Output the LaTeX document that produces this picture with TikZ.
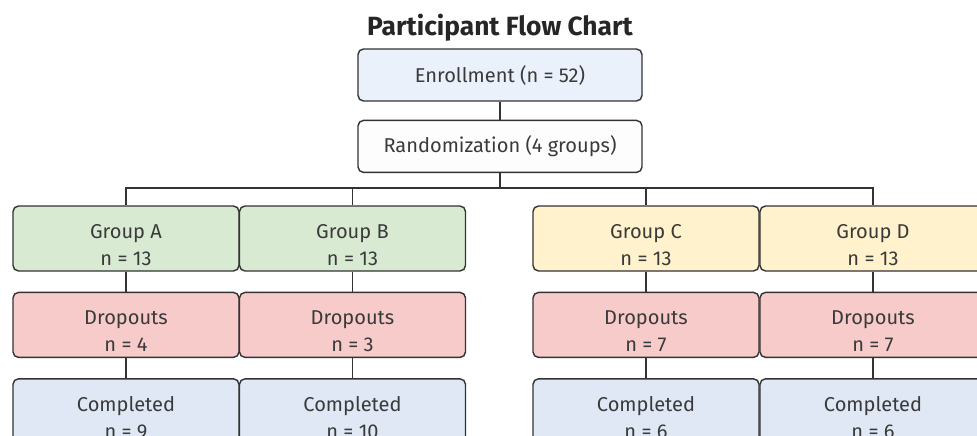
\documentclass[tikz,border=0pt]{standalone}
\usepackage{fontspec}
\setmainfont{Fira Sans}
\usetikzlibrary{positioning}
\definecolor{edgegray}{HTML}{333333}
\definecolor{textgray}{HTML}{3A3A3A}
\definecolor{enrollblue}{HTML}{EAF1FA}
\definecolor{randwhite}{HTML}{FDFDFD}
\definecolor{armgreen}{HTML}{D9EAD3}
\definecolor{armyellow}{HTML}{FFF2CC}
\definecolor{dropred}{HTML}{F6CBCA}
\definecolor{doneblue}{HTML}{DFE8F4}
\tikzset{
  flowbox/.style={draw=edgegray, line width=0.8pt, rounded corners=0.11cm, align=center,
                  text=textgray, font=\fontsize{11.4}{15.3}\selectfont, inner sep=0pt},
  topbox/.style={flowbox, minimum width=5.68cm, minimum height=1.04cm},
  armbox/.style={flowbox, minimum width=4.52cm, minimum height=1.3cm,
                 text height=30.5pt, text depth=0pt},
  greenbox/.style={armbox, fill=armgreen},
  yellowbox/.style={armbox, fill=armyellow},
  dropbox/.style={armbox, fill=dropred},
  donebox/.style={armbox, fill=doneblue},
  flowline/.style={draw=edgegray, line width=1.1pt},
}
\begin{document}
\begin{tikzpicture}[node distance=0.4cm]
  \useasboundingbox (0,0) rectangle (19.54,-8.72);
  \clip (0,0) rectangle (19.54,-8.72);

  \node[font=\bfseries\fontsize{15}{18}\selectfont, text=black!85, anchor=base] (title) at (10,-0.72) {Participant Flow Chart};
  \node[topbox, fill=enrollblue] (enroll) at (10,-1.5) {Enrollment (n = 52)};
  \node[topbox, fill=randwhite, below=0.36cm of enroll] (rand) {Randomization (4 groups)};

  \node[greenbox] (gA) at (2.52,-4.77) {Group A\\n = 13};
  \node[greenbox] (gB) at (7.05,-4.77) {Group B\\n = 13};
  \node[yellowbox] (gC) at (12.92,-4.77) {Group C\\n = 13};
  \node[yellowbox] (gD) at (17.46,-4.77) {Group D\\n = 13};

  \node[dropbox, below=of gA] (dA) {Dropouts\\n = 4};
  \node[dropbox, below=of gB] (dB) {Dropouts\\n = 3};
  \node[dropbox, below=of gC] (dC) {Dropouts\\n = 7};
  \node[dropbox, below=of gD] (dD) {Dropouts\\n = 7};

  \node[donebox, below=of dA] (cA) {Completed\\n = 9};
  \node[donebox, below=of dB] (cB) {Completed\\n = 10};
  \node[donebox, below=of dC] (cC) {Completed\\n = 6};
  \node[donebox, below=of dD] (cD) {Completed\\n = 6};

  \coordinate (bus) at (10,-3.76);
  \draw[flowline] (enroll) -- (rand);
  \draw[flowline] (rand) -- (bus);
  \foreach \g in {gA, gB, gC, gD} {
    \draw[flowline] (bus) -| (\g.north);
  }
  \foreach \a/\b in {gA/dA, dA/cA, gB/dB, dB/cB, gC/dC, dC/cC, gD/dD, dD/cD} {
    \draw[flowline] (\a) -- (\b);
  }
\end{tikzpicture}
\end{document}
